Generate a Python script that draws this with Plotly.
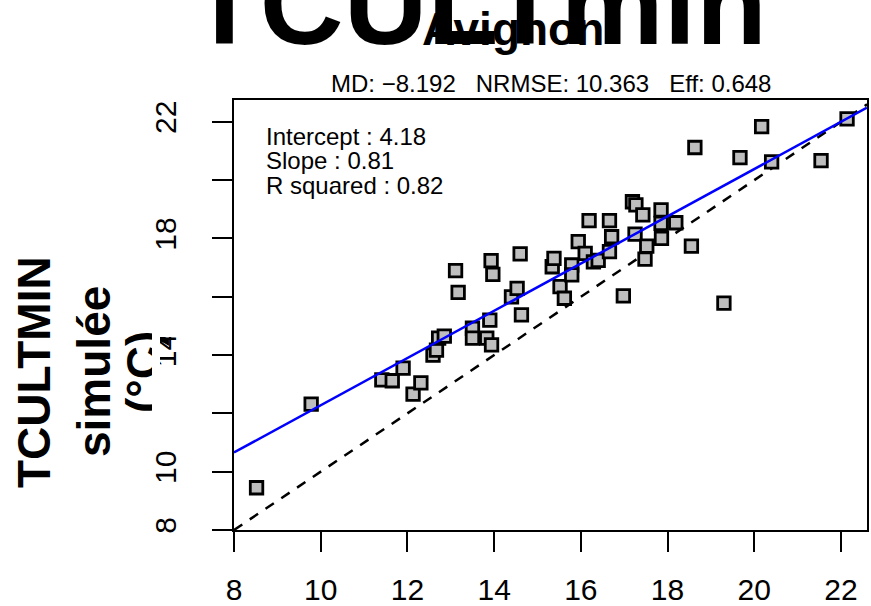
import plotly.graph_objects as go

# Observed vs simulated TCULTmin at Avignon (°C)
obs = [8.52, 9.78, 11.41, 11.65, 11.90, 12.13, 12.31, 12.59, 12.67, 12.72,
       12.85, 13.11, 13.17, 13.50, 13.50, 13.83, 13.94, 13.90, 13.93, 13.97,
       14.40, 14.53, 14.63, 14.60, 15.34, 15.38, 15.52, 15.62, 15.79, 15.79,
       15.94, 16.10, 16.29, 16.40, 16.19, 16.66, 16.71, 16.66, 16.98, 17.19,
       17.27, 17.43, 17.25, 17.52, 17.48, 17.85, 17.85, 17.86, 18.19, 18.55,
       18.63, 19.67, 20.17, 20.40, 21.54, 22.14, 19.30]
sim = [9.45, 12.32, 13.15, 13.12, 13.55, 12.66, 13.05, 14.00, 14.17, 14.58,
       14.65, 16.90, 16.15, 14.92, 14.58, 14.58, 14.35, 15.20, 17.24, 16.77,
       16.00, 16.29, 15.38, 17.47, 17.03, 17.32, 16.35, 15.95, 17.09, 16.75,
       17.89, 17.49, 17.20, 17.25, 18.61, 18.61, 18.06, 17.55, 16.03, 19.26,
       19.15, 18.81, 18.15, 17.74, 17.29, 18.98, 18.52, 18.00, 18.54, 17.74,
       21.12, 20.77, 21.84, 20.63, 20.67, 22.10, 15.78]

intercept = 4.18
slope = 0.81
r_squared = 0.82
md, nrmse, eff = -8.192, 10.363, 0.648

x_lim = [8, 22.6]
y_lim = [8, 22.75]
x_ticks = [8, 10, 12, 14, 16, 18, 20, 22]
y_ticks = [8, 10, 12, 14, 16, 18, 20, 22]
y_tick_text = ["8", "10", "", "14", "", "18", "", "22"]

FONT = "Liberation Sans, Arial, sans-serif"

fig = go.Figure()

# 1:1 reference line
fig.add_trace(go.Scatter(
    x=x_lim, y=x_lim, mode="lines",
    line=dict(color="black", width=2.5, dash="10px,9px"),
    hoverinfo="skip", showlegend=False))

# observations
fig.add_trace(go.Scatter(
    x=obs, y=sim, mode="markers",
    marker=dict(symbol="square", size=12.5, color="#BEBEBE",
                line=dict(color="black", width=2.8)),
    showlegend=False))

# linear regression line
fig.add_trace(go.Scatter(
    x=x_lim, y=[intercept + slope * v for v in x_lim], mode="lines",
    line=dict(color="#0000FF", width=2.5),
    hoverinfo="skip", showlegend=False))

L, R, T, B = 234, 4, 100, 76
W, H = 871, 606
pw, ph = W - L - R, H - T - B


def px(x):
    return (x - L) / pw


def py(y):
    return (H - B - y) / ph


ann = []
# main title and site name
ann.append(dict(text="TCULTmin", x=px(478), y=py(4), xref="paper", yref="paper",
                showarrow=False, xanchor="center", yanchor="middle",
                font=dict(family=FONT, size=116, color="black", weight="bold")))
ann.append(dict(text="Avignon", x=px(513), y=py(29), xref="paper", yref="paper",
                showarrow=False, xanchor="center", yanchor="middle",
                font=dict(family=FONT, size=46, color="black", weight="bold")))
ann.append(dict(text=f"MD: \u2212{abs(md):.3f}   NRMSE: {nrmse:.3f}   Eff: {eff:.3f}",
                x=px(551), y=py(83), xref="paper", yref="paper",
                showarrow=False, xanchor="center", yanchor="middle",
                font=dict(family=FONT, size=24, color="black")))

# regression statistics
stats = [f"Intercept : {intercept:.2f}", f"Slope : {slope:.2f}",
         f"R squared : {r_squared:.2f}"]
for s, yc in zip(stats, [136.4, 160.9, 185.4]):
    ann.append(dict(text=s, x=px(264), y=py(yc), xref="paper", yref="paper",
                    showarrow=False, xanchor="left", yanchor="middle",
                    font=dict(family=FONT, size=24, color="black")))

# y axis title, three lines
for s, xc in zip(["TCULTMIN", "simulée", "(°C)"], [34, 94, 143]):
    ann.append(dict(text=s, x=px(xc), y=py(372), xref="paper", yref="paper",
                    showarrow=False, xanchor="center", yanchor="middle",
                    textangle=-90,
                    font=dict(family=FONT, size=46, color="black", weight="bold")))

# the last title line is clipped at the figure region edge
for x0, x1, y0, y1 in [(152, 160, 316, 420), (152, 178, 316, 337), (152, 178, 377, 420)]:
    ann.append(dict(text=" ", x=px(x0), y=py(y0), xref="paper", yref="paper",
                    showarrow=False, xanchor="left", yanchor="top",
                    width=x1 - x0, height=y1 - y0, bgcolor="white",
                    borderpad=0, borderwidth=0,
                    font=dict(family=FONT, size=2, color="white")))

fig.update_layout(
    width=W, height=H,
    margin=dict(l=L, r=R, t=T, b=B, pad=0, autoexpand=False),
    paper_bgcolor="white", plot_bgcolor="white",
    annotations=ann,
    xaxis=dict(range=x_lim, tickvals=x_ticks, ticktext=[str(v) for v in x_ticks],
               showgrid=False, zeroline=False, showline=True, mirror=True,
               linecolor="black", linewidth=2, ticks="outside", ticklen=20,
               tickwidth=2, tickcolor="black", ticklabelstandoff=12,
               automargin=False,
               tickfont=dict(family=FONT, size=30, color="black")),
    yaxis=dict(range=y_lim, tickvals=y_ticks, ticktext=y_tick_text,
               showgrid=False, zeroline=False, showline=True, mirror=True,
               linecolor="black", linewidth=2, ticks="outside", ticklen=20,
               tickwidth=2, tickcolor="black", tickangle=-90, ticklabelstandoff=24,
               automargin=False,
               tickfont=dict(family=FONT, size=30, color="black")),
)

fig.write_html("out.html")
